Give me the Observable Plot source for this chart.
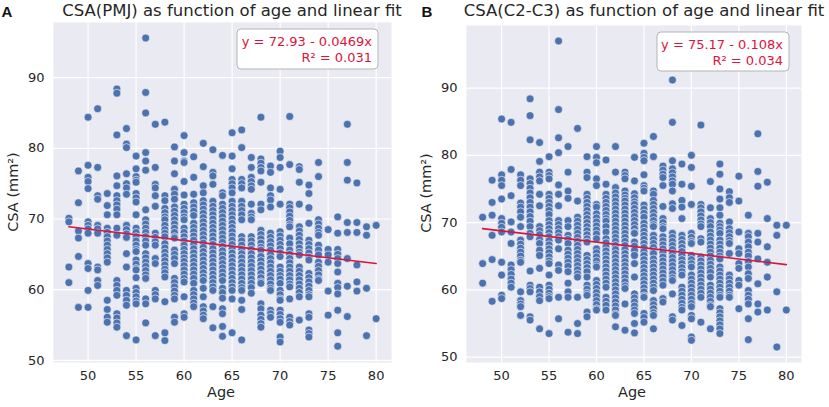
<!DOCTYPE html>
<html>
<head>
<meta charset="utf-8">
<script src="https://cdn.jsdelivr.net/npm/d3@7"></script>
<script src="https://cdn.jsdelivr.net/npm/@observablehq/plot@0.6"></script>
<style>
  body { margin: 0; background: white; }
  #wrap { position: relative; width: 829px; height: 407px; }
  #wrap svg { position: absolute; top: 0; }
</style>
</head>
<body>
<div id="wrap"></div>
<script>
const ages = [48,49,50,51,52,53,54,55,56,57,58,59,60,61,62,63,64,65,66,67,68,69,70,71,72,73,74,75,76,77,78,79,80];

const csaPMJ = [
  [70.1,69.6,63.2,61.0],
  [76.8,72.3,68.3,67.3,64.7,57.5],
  [84.4,77.6,75.9,75.3,74.3,69.6,69.1,68.6,68.0,63.7,63.0,59.9,57.5],
  [85.6,77.3,73.3,72.8,69.1,68.6,68.0,63.2,62.8,61.3,60.6],
  [73.6,71.9,70.6,68.7,68.1,67.5,66.9,66.3,65.7,65.1,64.5,63.9,58.5,57.2,56.1,55.4],
  [88.4,87.8,81.9,76.1,74.7,73.3,72.6,72.0,71.4,70.6,68.7,67.7,61.3,60.6,59.9,59.2,56.6,56.0,55.3,54.7],
  [82.8,80.6,80.1,76.4,75.0,74.4,73.5,69.1,68.5,67.9,67.4,65.1,63.2,59.9,59.2,58.5,57.8,53.5],
  [78.9,77.1,76.0,75.5,75.2,73.6,73.0,72.4,70.6,68.7,68.1,67.5,66.9,66.3,65.7,65.4,64.2,63.6,63.0,62.8,61.7,60.2,59.6,59.0,58.4,58.0,52.9],
  [95.6,87.9,85.0,79.4,78.2,76.9,71.3,69.9,69.3,68.7,68.1,67.5,66.9,66.3,65.1,64.5,63.9,63.3,62.7,62.1,61.6,58.7,58.0,55.3],
  [83.4,77.3,74.9,74.4,73.3,71.8,68.0,67.4,66.8,66.3,64.4,63.7,59.9,59.3,58.7,53.5],
  [83.7,73.3,72.6,71.5,70.9,70.3,69.9,69.1,68.5,68.0,67.5,66.5,65.9,65.3,64.7,64.1,63.5,62.9,62.4,61.8,58.3,53.9,52.8],
  [80.2,78.2,76.4,74.2,73.5,72.8,71.7,71.1,70.5,69.9,69.3,68.7,68.1,67.5,67.3,65.6,65.0,64.4,63.7,61.6,61.0,60.4,59.8,59.2,58.7,56.1,55.4],
  [81.8,79.4,78.2,78.0,75.3,73.4,72.1,71.5,70.9,70.3,69.9,68.7,68.1,67.5,66.9,66.3,65.7,65.1,64.5,64.0,63.4,62.8,62.2,61.6,61.1,59.0,56.6,56.1],
  [78.8,75.9,73.5,72.3,71.7,71.1,70.5,69.4,68.8,68.2,67.6,67.0,66.4,65.8,65.2,64.6,64.0,63.4,62.8,62.2,61.6,60.9,59.9,59.3,58.7,58.1,57.6],
  [80.7,77.4,74.7,73.7,72.6,72.0,71.4,70.8,70.2,69.6,69.0,68.4,67.8,67.2,66.6,66.0,65.4,64.8,64.2,63.6,63.0,62.4,61.8,61.3,60.2,59.0,57.6,57.0,56.4,55.9],
  [79.8,76.6,76.1,74.9,72.5,71.8,71.2,70.6,70.0,69.4,68.8,68.2,67.6,67.0,66.4,65.8,65.2,64.6,64.0,63.4,62.8,62.2,61.6,61.0,60.4,59.9,57.6,54.6],
  [79.0,73.7,73.3,72.1,71.5,70.9,70.3,69.7,69.1,68.5,67.9,67.3,66.7,66.1,65.5,64.9,64.3,63.7,63.1,62.5,61.9,61.3,60.2,59.6,58.8,57.3,56.6,54.8,53.4],
  [82.2,78.9,77.1,75.6,75.0,74.4,73.7,72.5,71.8,71.2,70.6,70.0,69.4,68.8,68.2,67.6,67.0,66.4,65.8,65.2,64.6,64.0,63.4,62.8,62.2,61.6,61.0,60.4,59.9,58.7,53.9],
  [82.6,80.1,75.6,75.0,74.4,72.5,71.8,71.2,70.6,69.9,67.5,66.9,66.3,65.7,65.1,64.5,63.9,63.3,62.7,62.1,61.5,60.9,60.3,59.9,58.5,57.2,52.9],
  [78.7,77.3,75.9,75.3,74.7,74.2,72.1,70.8,70.3,69.9,67.5,66.9,66.3,65.7,65.1,64.5,63.9,63.3,62.7,62.1,61.5,60.9,60.3,59.5],
  [84.4,78.5,77.9,77.3,76.8,75.2,72.1,71.3,68.4,67.8,67.2,66.6,66.0,65.6,64.7,64.1,63.5,62.9,62.3,61.7,61.1,60.9,58.0,57.3,56.4,55.8,55.2,54.7],
  [77.5,76.6,74.4,73.3,72.7,71.7,68.0,67.4,66.8,66.2,65.6,65.0,64.4,63.8,63.2,62.6,62.0,61.4,60.8,60.2,59.9,57.1,56.6,56.1],
  [79.6,78.7,77.3,74.2,72.1,68.2,67.6,67.0,66.4,65.8,65.2,64.7,63.2,62.6,62.0,61.5,60.9,59.9,59.3,58.7,58.5,57.1,56.5,55.9,55.4,53.3,52.6],
  [84.5,77.7,72.1,71.6,71.0,70.4,69.8,69.2,68.9,67.3,66.5,65.6,65.0,64.4,63.8,63.2,62.6,62.0,61.4,60.8,60.4,58.7,56.1,55.5,55.0],
  [77.4,77.0,75.2,72.1,68.9,68.3,67.7,67.1,66.5,65.9,65.3,64.9,63.2,62.6,62.0,61.4,60.8,60.2,59.6,59.0,55.7],
  [74.8,73.6,71.6,69.4,67.0,66.4,65.8,65.2,64.6,64.2,62.3,61.7,61.1,60.5,59.9,59.3,59.0,56.6,56.1,54.3,53.8,53.3],
  [78.0,76.0,69.9,69.3,68.7,68.1,67.7,66.3,65.6,64.9,63.9,63.3,62.7,62.1,61.5,61.3],
  [68.5,65.7,64.9,63.9,59.8,56.4],
  [70.3,68.0,65.7,65.0,64.4,63.7,62.5,60.9,60.3,59.4,57.1,53.9,52.0],
  [83.4,78.0,75.5,69.5,68.1,64.4,60.5,56.2],
  [75.1,69.5,68.1,63.5,61.1,59.8],
  [68.9,67.7,60.2,53.5],
  [69.1,55.9]
];

const csaC2C3 = [
  [70.8,63.9,61.0],
  [76.3,73.0,71.1,68.1,64.5,58.3],
  [85.4,77.1,76.3,75.5,73.5,70.6,69.9,69.3,68.6,64.1,62.2,59.2,58.7],
  [84.9,77.9,74.0,70.1,68.6,66.9,63.7,63.0,62.3,61.6,61.0,60.4],
  [77.1,76.3,75.5,72.9,72.3,71.6,70.8,69.4,67.4,66.8,66.2,65.6,65.0,64.4,64.1,59.7,58.4,57.9,57.5,56.2],
  [88.4,85.9,82.3,76.5,75.8,75.1,74.4,73.7,73.0,72.3,71.6,70.9,70.2,69.4,68.4,67.9,62.8,60.7,60.2,59.7,56.0,55.5],
  [81.9,79.1,77.5,76.8,76.2,74.2,72.5,69.4,68.8,68.2,67.5,66.9,65.9,65.1,63.2,60.4,59.7,59.0,58.4,54.2],
  [79.8,77.5,77.0,76.5,74.2,73.6,73.0,72.4,71.8,71.2,70.3,69.7,69.1,68.5,67.9,67.3,66.7,66.1,65.5,64.9,64.3,63.9,62.2,60.7,60.1,59.5,59.0,58.7,53.5],
  [97.0,86.8,82.6,80.4,75.6,74.2,72.5,70.3,69.7,69.1,68.5,67.9,67.4,66.1,63.7,62.9,58.9,55.7],
  [81.3,77.5,74.7,73.6,70.3,69.4,68.1,67.5,66.9,65.9,65.3,64.7,64.1,63.5,62.7,61.0,59.7,58.9,53.7],
  [84.0,73.2,70.8,70.2,69.6,69.0,68.4,67.8,67.2,66.6,66.0,65.4,64.8,64.2,63.6,63.0,62.4,61.9,58.9,55.0,53.5],
  [79.8,77.5,76.7,74.2,73.6,73.0,72.4,71.8,71.2,70.6,70.0,69.4,68.8,68.2,67.6,67.1,65.1,64.5,63.9,63.3,62.7,61.9,60.7,60.1,59.5,59.2,56.7,56.0],
  [81.3,79.7,78.9,76.5,75.5,72.7,72.3,71.3,70.7,70.1,69.5,68.9,68.3,67.6,66.1,65.5,64.9,64.3,63.7,63.4,61.4,60.8,60.2,59.6,59.0,58.4,57.8,57.2,57.0],
  [79.3,75.7,74.2,73.6,73.0,72.4,71.8,71.2,70.6,70.2,69.4,68.6,67.6,67.0,66.4,65.8,65.2,64.6,64.0,63.4,62.8,62.2,61.6,61.0,60.4,58.9,58.3,57.7,57.0],
  [81.3,77.5,75.2,74.4,73.8,73.2,72.6,72.0,71.4,70.8,70.2,69.6,69.0,68.4,67.8,67.2,66.6,66.0,65.4,64.8,64.2,63.6,63.0,62.4,61.8,61.2,60.6,60.0,59.4,58.8,58.2,57.6,57.0,56.4,56.2,54.5],
  [77.5,77.0,76.5,74.7,74.1,73.6,73.2,72.6,72.0,71.4,70.8,70.2,69.6,69.0,68.4,67.8,67.2,66.6,66.0,65.4,64.8,64.2,63.6,63.0,62.4,61.8,61.2,60.6,60.2,57.9,54.0],
  [79.7,76.2,74.3,73.7,73.1,72.7,72.1,71.5,70.9,70.3,69.7,69.1,68.5,68.4,67.1,66.5,65.9,65.1,63.9,61.9,59.4,58.8,58.2,57.6,57.0,56.5,55.0,53.6],
  [81.8,80.3,79.7,79.2,77.1,75.5,75.1,74.7,72.6,72.0,71.4,70.8,69.9,69.3,68.7,68.1,67.5,66.9,66.3,65.7,65.1,64.5,63.9,63.3,62.7,62.1,61.5,60.9,60.3,59.7,59.1,58.9,56.5,55.9,55.2],
  [82.8,79.8,74.7,74.2,73.3,72.7,72.1,71.5,70.9,70.3,69.7,69.4,68.1,67.5,66.9,66.3,65.7,65.4,64.6,64.0,63.4,62.8,62.2,61.6,61.0,60.4,59.9,58.4,57.8,57.2,56.6,56.2,54.2],
  [78.4,77.8,77.2,76.7,75.5,72.4,70.6,70.0,69.4,69.1,67.9,67.3,66.7,66.1,65.5,64.9,64.3,63.7,63.1,62.5,61.9,61.3,60.7,58.7,58.2],
  [91.2,84.9,79.2,78.0,77.4,76.8,76.2,75.7,74.7,72.8,72.1,68.4,67.8,67.2,66.6,66.0,65.4,64.8,64.2,63.6,63.0,62.4,61.8,61.4,59.4,56.0,55.5],
  [78.7,75.7,73.3,72.3,70.6,68.1,67.5,66.9,66.3,65.7,65.1,64.5,63.9,63.3,62.7,62.2,60.4,59.8,59.2,58.6,58.0,57.4,57.0,54.7],
  [80.0,78.2,75.4,72.7,68.4,67.8,67.2,66.9,65.1,64.5,63.9,63.4,62.2,61.6,61.0,60.4,59.8,59.2,58.6,58.0,57.5,56.2,55.7,53.0,52.5],
  [84.5,72.7,72.2,71.6,71.0,70.4,69.8,69.4,67.6,67.1,64.9,64.3,63.7,63.1,62.5,61.9,61.3,60.7,60.1,59.5,58.9,55.2],
  [76.1,72.2,70.6,70.0,69.4,68.6,68.0,67.4,66.8,66.2,65.6,65.0,64.4,63.8,63.2,62.6,61.9,60.7,60.1,59.5,58.9,58.3,57.7,57.5,54.2],
  [78.7,77.2,75.0,73.5,72.2,71.1,69.9,69.4,68.9,68.4,67.4,66.8,66.2,65.6,65.0,64.6,63.4,62.8,62.2,61.6,61.0,60.4,59.8,59.2,58.9,57.2,56.6,56.0,55.4,54.8,54.2,53.5],
  [74.6,73.7,73.0,70.1,69.1,68.5,67.9,67.3,66.9,65.4,62.2,61.6,61.0,60.4,59.8,59.2,58.9],
  [76.9,73.2,68.6,66.1,65.4,63.9,63.2,61.4,60.7,57.2],
  [71.1,68.4,67.9,67.1,66.4,65.6,65.0,64.2,63.4,62.4,61.7,59.9,59.2,58.6,57.9,55.7,52.6],
  [83.2,77.6,75.4,68.4,67.1,64.6,60.9,57.9,56.7],
  [76.0,70.6,66.4,64.1,61.9,57.0],
  [69.6,68.1,59.7,51.5],
  [69.6,57.0]
];

const fitAges = [48, 80];
const fitPMJ = [68.9, 63.7];
const fitC2C3 = [69.1, 63.75];

const xTicks = [50,55,60,65,70,75,80];
const yTicks = [50,60,70,80,90];

const titles = ["CSA(PMJ) as function of age and linear fit", "CSA(C2-C3) as function of age and linear fit"];
const letters = ["A", "B"];
const eqLines = [["y = 72.93 - 0.0469x", "R² = 0.031"], ["y = 75.17 - 0.108x", "R² = 0.034"]];

const FONT = "DejaVu Sans";
const BLUE = "#4c72b0";
const RED = "#dc143c";

function panel(cfg) {
  const data = ages.flatMap((a, i) => cfg.values[i].map(v => ({age: a, csa: v})));
  const fit = fitAges.map((a, i) => ({age: a, csa: cfg.fit[i]}));
  const svg = Plot.plot({
    width: 415, height: 407,
    marginLeft: cfg.ml, marginRight: cfg.mr, marginTop: cfg.mt, marginBottom: cfg.mb,
    x: {domain: cfg.xd},
    y: {domain: cfg.yd},
    style: {fontFamily: FONT, fontSize: "13px", color: "#262626", background: "transparent", overflow: "visible"},
    marks: [
      Plot.frame({fill: "#eaeaf2", stroke: "none"}),
      Plot.gridX(xTicks, {stroke: "white", strokeOpacity: 1, strokeWidth: 1.2}),
      Plot.gridY(yTicks, {stroke: "white", strokeOpacity: 1, strokeWidth: 1.2}),
      Plot.axisX(xTicks, {tickSize: 0, tickPadding: 8, label: null, fontSize: 13}),
      Plot.axisY(yTicks, {tickSize: 0, tickPadding: 9, label: null, fontSize: 13}),
      Plot.dot(data, {x: "age", y: "csa", r: 4, fill: BLUE, stroke: "white", strokeWidth: 0.6}),
      Plot.line(fit, {x: "age", y: "csa", stroke: RED, strokeWidth: 1.6})
    ]
  });
  const s = d3.select(svg).style("left", cfg.left + "px");
  s.append("text").attr("x", cfg.letterX).attr("y", 17)
    .attr("font-family", "Liberation Sans").attr("font-weight", "bold").attr("font-size", 15)
    .attr("fill", "#111").text(cfg.letter);
  s.append("text").attr("x", cfg.titleX).attr("y", 16).attr("text-anchor", "middle")
    .attr("font-family", FONT).attr("font-size", 16.5).attr("fill", "#262626").text(cfg.title);
  s.append("text").attr("transform", `translate(${cfg.ylabX},${cfg.ylabY}) rotate(-90)`)
    .attr("text-anchor", "middle").attr("font-family", FONT).attr("font-size", 14.5)
    .attr("fill", "#262626").text("CSA (mm²)");
  s.append("text").attr("x", cfg.xlabX).attr("y", 397).attr("text-anchor", "middle")
    .attr("font-family", FONT).attr("font-size", 14.5).attr("fill", "#262626").text("Age");
  const b = cfg.box;
  s.append("rect").attr("x", b[0]).attr("y", b[1]).attr("width", b[2]).attr("height", b[3])
    .attr("rx", 4).attr("fill", "white").attr("stroke", "#b5b5b5").attr("stroke-width", 1);
  cfg.eq.forEach((t, i) => {
    s.append("text").attr("x", b[0] + b[2] - 6).attr("y", b[1] + 16.5 + i * 16)
      .attr("text-anchor", "end").attr("font-family", FONT).attr("font-size", 13)
      .attr("fill", RED).text(t);
  });
  return svg;
}

const wrap = document.getElementById("wrap");
wrap.appendChild(panel({
  values: csaPMJ, fit: fitPMJ, left: 0,
  ml: 53, mr: 24, mt: 22, mb: 45, xd: [46.4, 81.6], yd: [49.7, 97.8],
  letter: letters[0], letterX: 7, title: titles[0], titleX: 232,
  ylabX: 17.5, ylabY: 192, xlabX: 221,
  box: [237, 29, 141, 40], eq: eqLines[0]
}));
wrap.appendChild(panel({
  values: csaC2C3, fit: fitC2C3, left: 414,
  ml: 52, mr: 28, mt: 25, mb: 45, xd: [46.3, 81.6], yd: [49.2, 99.3],
  letter: letters[1], letterX: 13, title: titles[1], titleX: 230,
  ylabX: 17, ylabY: 193, xlabX: 218,
  box: [243, 32, 132, 39], eq: eqLines[1]
}));
</script>
</body>
</html>
